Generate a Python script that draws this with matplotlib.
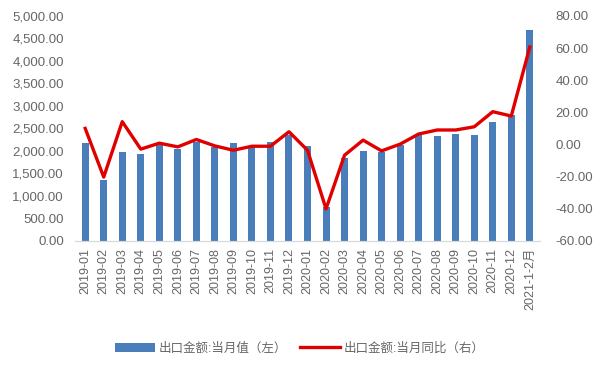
import matplotlib.pyplot as plt
import numpy as np

plt.rcParams['font.family'] = ['Liberation Sans', 'Noto Sans CJK SC']

months = ["2019-01", "2019-02", "2019-03", "2019-04", "2019-05", "2019-06",
          "2019-07", "2019-08", "2019-09", "2019-10", "2019-11", "2019-12",
          "2020-01", "2020-02", "2020-03", "2020-04", "2020-05", "2020-06",
          "2020-07", "2020-08", "2020-09", "2020-10", "2020-11", "2020-12",
          "2021-1-2月"]
export_value = [2170, 1350, 1975, 1930, 2140, 2050, 2200, 2090, 2180, 2090,
                2200, 2350, 2100, 745, 1850, 1990, 1975, 2125, 2350, 2325,
                2385, 2350, 2650, 2800, 4680]
export_yoy = [10.0, -20.3, 14.2, -2.9, 0.8, -1.5, 3.1, -0.9, -3.6, -1.1,
              -1.1, 7.9, -3.6, -40.1, -6.7, 2.7, -4.0, 0.2, 6.5, 9.0,
              9.0, 11.0, 20.4, 17.7, 60.6]

bar_name = "出口金额:当月值（左）"
line_name = "出口金额:当月同比（右）"

fig = plt.figure(figsize=(6, 3.7), dpi=100)
ax = fig.add_axes([0.125, 0.349, 0.775, 0.608])
ax2 = ax.twinx()

x = np.arange(len(months))
bars = ax.bar(x, export_value, width=0.38, color="#4a7ebb", label=bar_name, zorder=2)
line, = ax2.plot(x, export_yoy, color="#e00000", linewidth=2.4, label=line_name, zorder=3)

ax.set_xlim(-0.55, len(months) - 0.45)
ax.set_ylim(0, 5000)
ax2.set_ylim(-60, 80)
ax.set_yticks(np.arange(0, 5001, 500))
ax.set_yticklabels([f"{v:,.2f}" for v in np.arange(0, 5001, 500)])
ax2.set_yticks(np.arange(-60, 81, 20))
ax2.set_yticklabels([f"{v:.2f}" for v in np.arange(-60, 81, 20)])
ax.set_xticks(x)
ax.set_xticklabels(months, rotation=90)

for a in (ax, ax2):
    for s in ("top", "left", "right"):
        a.spines[s].set_visible(False)
    a.spines["bottom"].set_color("#d9d9d9")
    a.tick_params(length=0, colors="#666666", labelsize=9.5)
ax.tick_params(axis="x", pad=5, labelsize=9)
ax.tick_params(axis="y", pad=8)
ax2.tick_params(axis="y", pad=11)

fig.legend([bars, line], [bar_name, line_name], loc="center", ncol=2,
           bbox_to_anchor=(0.5, 0.058), frameon=False, fontsize=9,
           handlelength=3.2, columnspacing=1.0, handletextpad=0.3,
           labelcolor="#666666")

fig.savefig("out.png", dpi=100)
